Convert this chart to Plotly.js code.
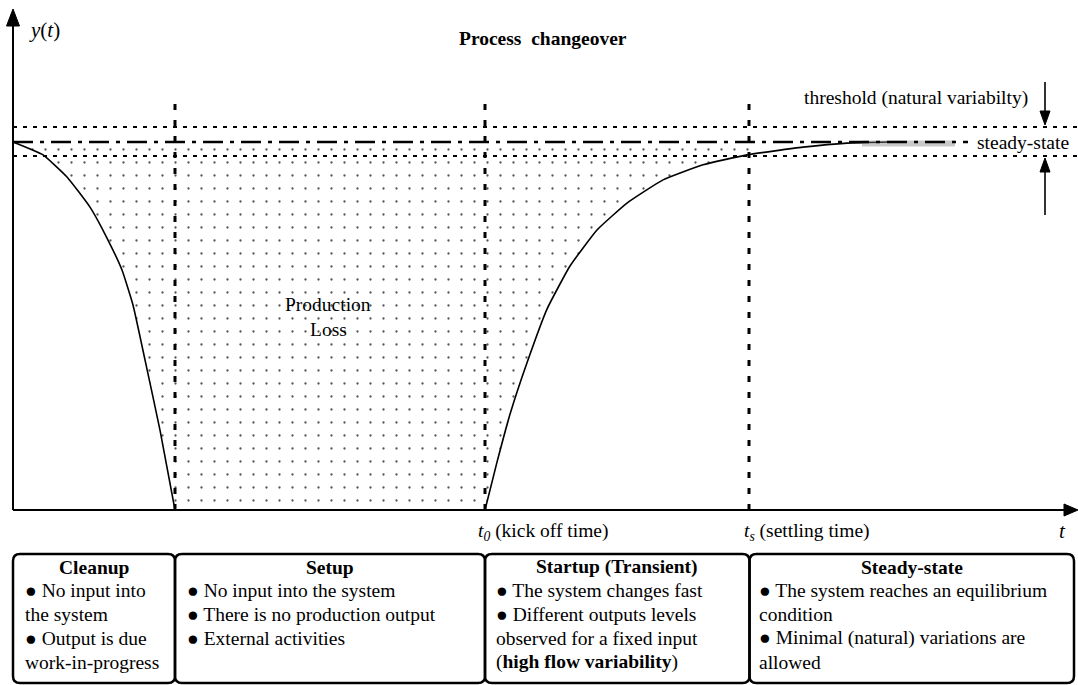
<!DOCTYPE html>
<html>
<head>
<meta charset="utf-8">
<script src="https://cdn.plot.ly/plotly-3.0.1.min.js"></script>
<style>html,body{margin:0;padding:0;background:#fff;} #chart{width:1078px;height:685px;}</style>
</head>
<body>
<div id="chart"></div>
<script>
// ---------------- DATA (time units, output relative to steady-state = 1) ----------------
const steadyState = 1.0;
const thresholdHigh = 1.041;
const thresholdLow = 0.962;

// phase boundaries (time)
const phaseNames = ['Cleanup', 'Setup', 'Startup (Transient)', 'Steady-state'];
const phaseStart = [0, 16.2, 47.2, 73.65];
const phaseEnd = [16.2, 47.2, 73.65, 106.1];

// marker times
const setupStart = 16.2;
const kickOffTime = 47.2;   // t0
const settlingTime = 73.6;  // ts

// output during cleanup (falls to zero)
const cleanupT = [0, 3.0, 5.4, 7.7, 9.4, 10.9, 12.0, 13.2, 14.7, 16.2];
const cleanupY = [1.0, 0.965, 0.905, 0.823, 0.739, 0.652, 0.557, 0.408, 0.217, 0.0];

// output during startup (rises back to steady-state)
const startupT = [47.2, 48.4, 49.7, 51.4, 53.4, 55.7, 58.4, 61.4, 65.0, 69.0, 73.4, 79.0, 83.4, 87.7];
const startupY = [0.0, 0.13, 0.26, 0.40, 0.546, 0.663, 0.761, 0.834, 0.897, 0.938, 0.965, 0.986, 0.997, 1.0];

// box texts
const boxLines = [
  ['● No input into', 'the system', '● Output is due', 'work-in-progress'],
  ['● No input into the system', '● There is no production output', '● External activities'],
  ['● The system changes fast', '● Different outputs levels', 'observed for a fixed input', '(<b>high flow variability</b>)'],
  ['● The system reaches an equilibrium', 'condition', '● Minimal (natural) variations are', 'allowed']
];

// ---------------- helpers: page pixel -> data ----------------
const X = px => (px - 13) / 10;
const Y = py => (510 - py) / 368;
const PX = t => 13 + t * 10;

const FONT = 'Liberation Serif';
const FS = 19.5;

// ---------------- traces ----------------
const fillT = [], fillY = [];
cleanupT.forEach((t, i) => { fillT.push(t); fillY.push(cleanupY[i]); });
startupT.forEach((t, i) => { if (t <= settlingTime) { fillT.push(t); fillY.push(startupY[i]); } });
fillT.push(settlingTime + 1.1); fillY.push(steadyState);
fillT.push(0); fillY.push(steadyState);

const traces = [
  {
    x: fillT, y: fillY, type: 'scatter', mode: 'none', fill: 'toself',
    fillcolor: 'rgba(0,0,0,0)',
    fillpattern: {shape: '.', fgcolor: '#555', bgcolor: 'white', size: 13, solidity: 0.025},
    hoverinfo: 'skip'
  },
  {
    x: cleanupT, y: cleanupY, type: 'scatter', mode: 'lines',
    line: {color: 'black', width: 1.6, shape: 'spline', smoothing: 0.4}, hoverinfo: 'skip'
  },
  {
    x: startupT, y: startupY, type: 'scatter', mode: 'lines',
    line: {color: 'black', width: 1.6, shape: 'spline', smoothing: 0.4}, hoverinfo: 'skip'
  }
];

// ---------------- shapes ----------------
const shapes = [];
const dotted = {color: 'black', width: 2, dash: '4px,6px'};
// threshold lines
shapes.push({type: 'line', x0: 0, x1: X(1078), y0: thresholdHigh, y1: thresholdHigh, line: dotted});
shapes.push({type: 'line', x0: 0, x1: X(1078), y0: thresholdLow, y1: thresholdLow, line: dotted});
// steady-state dash-dot
shapes.push({type: 'line', x0: X(862), x1: X(955), y0: steadyState - 0.004, y1: steadyState - 0.004,
  line: {color: 'rgba(120,120,120,0.4)', width: 6}});
shapes.push({type: 'line', x0: 0, x1: X(968), y0: steadyState, y1: steadyState,
  line: {color: 'black', width: 2.5, dash: '20px,7px,4px,7px'}});
// vertical phase markers
[setupStart, kickOffTime, settlingTime].forEach(t => {
  shapes.push({type: 'line', x0: t, x1: t, y0: 0, y1: Y(97),
    line: {color: 'black', width: 3, dash: '6px,10px'}});
});
// axes
shapes.push({type: 'line', x0: 0, x1: X(1066), y0: 0, y1: 0, line: {color: 'black', width: 2}});
shapes.push({type: 'line', x0: 0, x1: 0, y0: 0, y1: Y(22), line: {color: 'black', width: 2}});
const tri = (pts) => ({type: 'path', path: 'M ' + pts.map(p => X(p[0]) + ',' + Y(p[1])).join(' L ') + ' Z',
  fillcolor: 'black', line: {color: 'black', width: 1}});
shapes.push(tri([[13, 9], [6.5, 26], [19.5, 26]]));
shapes.push(tri([[1078, 510], [1064, 504], [1064, 516]]));
// threshold arrows
shapes.push({type: 'line', x0: X(1045), x1: X(1045), y0: Y(82), y1: Y(115), line: {color: 'black', width: 1.6}});
shapes.push(tri([[1045, 125], [1040, 111], [1050, 111]]));
shapes.push({type: 'line', x0: X(1045), x1: X(1045), y0: Y(215), y1: Y(168), line: {color: 'black', width: 1.6}});
shapes.push(tri([[1045, 158], [1040, 172], [1050, 172]]));
// phase boxes (rounded)
function rrect(x0, x1, y0, y1, r) {
  return `M ${X(x0 + r)},${Y(y0)} L ${X(x1 - r)},${Y(y0)} Q ${X(x1)},${Y(y0)} ${X(x1)},${Y(y0 + r)} ` +
    `L ${X(x1)},${Y(y1 - r)} Q ${X(x1)},${Y(y1)} ${X(x1 - r)},${Y(y1)} L ${X(x0 + r)},${Y(y1)} ` +
    `Q ${X(x0)},${Y(y1)} ${X(x0)},${Y(y1 - r)} L ${X(x0)},${Y(y0 + r)} Q ${X(x0)},${Y(y0)} ${X(x0 + r)},${Y(y0)} Z`;
}
phaseNames.forEach((n, i) => {
  shapes.push({type: 'path', path: rrect(PX(phaseStart[i]), PX(phaseEnd[i]), 554, 683, 7),
    line: {color: 'black', width: 2.5}, fillcolor: 'rgba(0,0,0,0)'});
});

// ---------------- annotations ----------------
const ann = [];
const txt = (text, xpx, ypx, size, xanchor) => ({
  text, x: X(xpx), y: Y(ypx), xref: 'x', yref: 'y', showarrow: false,
  xanchor: xanchor || 'center', yanchor: 'middle',
  font: {family: FONT, size: size || FS, color: 'black'}
});

ann.push(txt('<b>Process\u00a0 changeover</b>', 543, 38, FS));
ann.push(txt('<i>y</i>(<i>t</i>)', 44, 30, 21));
ann.push(txt('Production', 328, 304, FS));
ann.push(txt('Loss', 328, 329, FS));
ann.push(txt('threshold (natural variabilty)', 916, 98, FS));
ann.push(txt('steady-state', 1023, 142, FS));
ann.push(txt('<i>t<sub>0</sub></i> (kick off time)', 476, 532, FS, 'left'));
ann.push(txt('<i>t<sub>s</sub></i> (settling time)', 742, 532, FS, 'left'));
ann.push(txt('<i>t</i>', 1062, 531, 21));

// box texts
const textLeft = [23, 185, 494, 757];
phaseNames.forEach((n, i) => {
  const cx = (PX(phaseStart[i]) + PX(phaseEnd[i])) / 2;
  ann.push(txt('<b>' + n + '</b>', cx, 567, FS));
  boxLines[i].forEach((line, j) => {
    ann.push(txt(line, textLeft[i], 590 + 24 * j, FS, 'left'));
  });
});

const layout = {
  width: 1078, height: 685,
  margin: {l: 0, r: 0, t: 0, b: 0},
  paper_bgcolor: 'white', plot_bgcolor: 'white',
  showlegend: false,
  xaxis: {range: [X(0), X(1078)], visible: false, fixedrange: true},
  yaxis: {range: [Y(685), Y(0)], visible: false, fixedrange: true},
  shapes: shapes,
  annotations: ann
};

Plotly.newPlot('chart', traces, layout, {staticPlot: true, displayModeBar: false});
</script>
</body>
</html>
